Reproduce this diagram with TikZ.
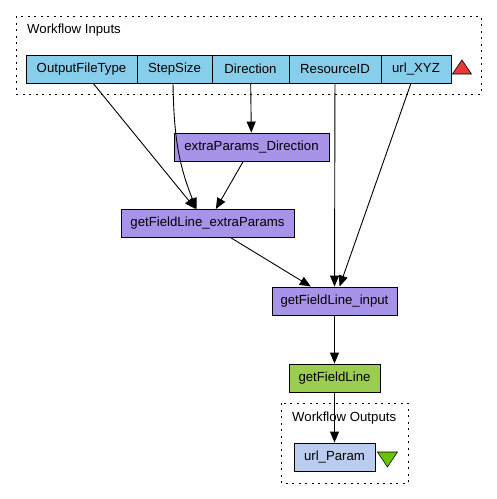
\documentclass[tikz,border=0pt]{standalone}
\usepackage{fontspec}
\setmainfont{Liberation Sans}
\usepackage{xcolor}
\definecolor{inblue}{HTML}{87CEEB}
\definecolor{procpurple}{HTML}{A793E8}
\definecolor{svcgreen}{HTML}{9ACD50}
\definecolor{outblue}{HTML}{BACDEE}
\definecolor{upred}{HTML}{E83A3A}
\definecolor{downgreen}{HTML}{66C400}
\usetikzlibrary{arrows.meta, calc}

\begin{document}
\begin{tikzpicture}
    [x=1pt, y=-1pt,
     font=\fontsize{13.2}{15}\selectfont,
     box/.style={draw, line width=0.9pt, minimum height=28pt, inner sep=0pt},
     inport/.style={box, fill=inblue},
     proc/.style={box, fill=procpurple},
     svc/.style={box, fill=svcgreen},
     outport/.style={box, fill=outblue},
     group/.style={line width=0.9pt, dash pattern=on 2pt off 4.5pt},
     edge/.style={line width=0.9pt, -{Triangle[length=11pt, width=9pt]}}]
    \useasboundingbox (0,0) rectangle (497,499);
    % groups
    \draw[group] (16,16) rectangle (481,94);
    \node[anchor=base west, inner sep=0pt] (inlabel) at (27,33) {Workflow Inputs};
    \draw[group] (281,403) rectangle (408,483);
    \node[anchor=base west, inner sep=0pt] (outlabel) at (292,421) {Workflow Outputs};
    % inputs
    \node[inport, minimum width=111pt] (OutputFileType) at (81.5,69) {OutputFileType};
    \node[inport, minimum width=75pt] (StepSize) at (174.5,69) {StepSize};
    \node[inport, minimum width=77pt] (Direction) at (250.5,69) {Direction};
    \node[inport, minimum width=92pt] (ResourceID) at (335,69) {ResourceID};
    \node[inport, minimum width=70pt] (urlXYZ) at (416,69) {url\_XYZ};
    \filldraw[upred, draw=black, line width=0.6pt]
        ($(urlXYZ.east)+(1,5)$)--
        ($(urlXYZ.east)+(20,5)$)--
        ($(urlXYZ.east)+(10.5,-9)$)--cycle;
    % processors
    \node[proc, minimum width=155pt] (extraDir) at (251.5,147) {extraParams\_Direction};
    \node[proc, minimum width=173pt] (extraParams) at (207.5,223.5) {getFieldLine\_extraParams};
    \node[proc, minimum width=125pt] (input) at (334.5,301) {getFieldLine\_input};
    \node[svc, minimum width=91pt] (getFieldLine) at (334.5,378) {getFieldLine};
    % outputs
    \node[outport, minimum width=81pt] (urlParam) at (334.5,457) {url\_Param};
    \filldraw[downgreen, draw=black, line width=0.6pt]
        ($(urlParam.east)+(2,-5)$)--
        ($(urlParam.east)+(22,-5)$)--
        ($(urlParam.east)+(12,10)$)--cycle;
    % links
    \draw[edge] (OutputFileType) -- (extraParams);
    \draw[edge] ($(StepSize.south)+(-1.5,0)$) to[out=-89, in=112] ($(extraParams.north)+(-11,0)$);
    \draw[edge] (Direction) -- (extraDir);
    \draw[edge] (extraDir) -- (extraParams);
    \draw[edge] (extraParams) -- (input);
    \draw[edge] (ResourceID) -- (input);
    \draw[edge] (urlXYZ) -- (input);
    \draw[edge] (input) -- (getFieldLine);
    \draw[edge] (getFieldLine) -- (urlParam);
\end{tikzpicture}
\end{document}
